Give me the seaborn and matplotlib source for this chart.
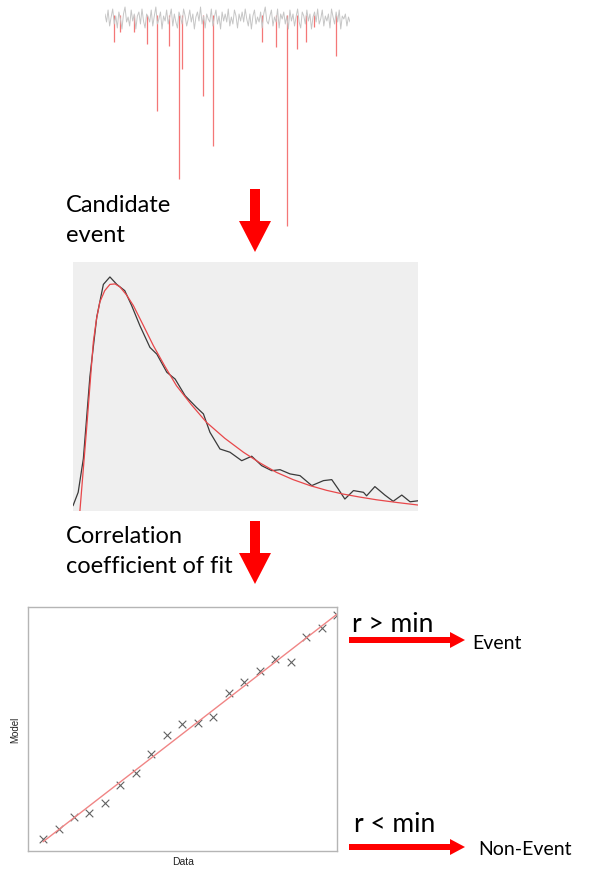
import numpy as np
import matplotlib.pyplot as plt
from matplotlib.patches import FancyArrow
import seaborn as sns

# === Data ===
# top light curve: baseline noise (flux units, 0 = baseline)
noise = [5, -3, 9, -7, 2, 10, -5, 3, -9, 7, 0, -10, 5, 12, -3, 2, -7, 9, -2, 5,
         -10, 3, 7, -5, 10, -2, -9, 5, 2, -3, 9, -7, 3, 12, -5, 0, 7, -10, 3, -2,
         9, -5, 2, 10, -7, 5, -3, -9, 7, 2, -5, 10, 3, -7, 0, 9, -3, 5, -10, 2,
         7, -2, 12, -5, 3, -9, 5, 0, -3, 10, -7, 2, 9, -5, 3, -10, 7, -2, 5, -3,
         10, -7, 2, -5, 9, 3, -9, 5, -2, 7, -3, 10, 0, -7, 5, -10, 3, 9, -5, 2,
         -3, 7, -9, 5, 12, -2, -5, 3, 9, -7, 2, -3, 10, -9, 5, 0, 7, -5, 3, -10,
         9, -2, 5, -7, 2, 10, -3, -9, 7, 3, -5, 9, -2, 5, -10, 2, 7, -3, 10, -5,
         0, 9, -7, 3, -2, 5, -9, 10, 2, -5, 7, -3, 9, -10, 3, 0, 5, -7, 2, -3]
# candidate events (dips)
spike_t = [9, 15, 29, 42, 52, 64, 74, 77, 98, 108, 157, 171, 182, 192, 201, 209, 231]
spike_depth = [-23, -13, -13, -25, -92, -27, -160, -50, -77, -127, -23, -28, -207, -30, -23, -8, -37]

# candidate event: data and fitted model
event_x = [0, 1.5, 3, 4.9, 6.9, 8.8, 10.7, 12.7, 15, 17, 19.4, 22.3, 24.3, 27.2, 29.6,
           32.5, 35.8, 37.8, 39.7, 42.6, 45.5, 48.9, 51.8, 54.7, 57.6, 60, 62.9, 65.8,
           69.2, 72.6, 75, 76.9, 78.8, 81.3, 84.2, 85.1, 87.5, 90.4, 92.8, 95.3, 97.7, 100]
event_y = [2.1, 7.5, 21, 54, 78, 91, 94, 91, 88.5, 82.5, 74.4, 65.7, 63, 55.7, 53,
           46.3, 41.6, 39, 31.6, 24.9, 23.6, 20.2, 22, 18.2, 16.2, 16.6, 14.9, 14.2,
           10.2, 12.2, 12.6, 8.8, 4.8, 8.2, 7.5, 6.1, 9.8, 6.4, 3.9, 6.4, 3.7, 4.1]
model_x = [2, 3, 4, 5, 5.9, 6.8, 7.8, 9.2, 10.7, 12.2, 13.6, 15.5, 17.5, 20.4, 23.3,
           26.6, 30, 34.3, 38.7, 44, 49.4, 54.2, 59, 63.8, 68.7, 73.5, 78.3, 83.1, 88, 94, 100]
model_y = [0, 17, 34, 52, 68, 77, 84, 88.5, 91, 91.2, 90, 86.8, 82.5, 74.5, 66.4,
           58.2, 50.3, 42.7, 35.6, 29.2, 23.6, 19.3, 15.5, 12.6, 10.2, 8.3, 6.8, 5.6, 4.5, 3.4, 2.4]

# correlation plot: data vs model
corr_data = list(range(1, 21))
corr_model = [0.80, 1.44, 2.22, 2.48, 3.08, 4.25, 5.02, 6.25, 7.50, 8.23,
              8.28, 8.69, 10.22, 10.95, 11.66, 12.44, 12.22, 13.84, 14.44, 15.26]

sns.set_theme(style='white')
plt.rcParams['font.family'] = ['Lato', 'DejaVu Sans']

W, H = 595, 870
fig = plt.figure(figsize=(W / 100, H / 100), dpi=100)


def px_axes(x0, y0, x1, y1):
    # axes placed by pixel box (top-left origin)
    return fig.add_axes([x0 / W, 1 - y1 / H, (x1 - x0) / W, (y1 - y0) / H])


# === Panel 1: light curve ===
ax1 = px_axes(105, 5, 350, 232)
t = np.linspace(0, 245, len(noise))
ax1.vlines(spike_t, spike_depth, 4, color='#f25555', lw=0.9, alpha=0.8)
sns.lineplot(x=t, y=noise, ax=ax1, color='#c6c6c6', lw=0.7)
ax1.set_xlim(0, 245)
ax1.set_ylim(-212, 15)
ax1.axis('off')

# === Panel 2: candidate event fit ===
ax2 = px_axes(73, 263, 418, 512)
ax2.set_facecolor('#efefef')
sns.lineplot(x=event_x, y=event_y, ax=ax2, color='#3a3a3a', lw=0.9, sort=False)
sns.lineplot(x=model_x, y=model_y, ax=ax2, color='#e8474a', lw=0.9, sort=False)
ax2.set_xlim(0, 100)
ax2.set_ylim(0, 100)
ax2.set_xticks([])
ax2.set_yticks([])
for s in ax2.spines.values():
    s.set_visible(False)

# === Panel 3: correlation of data vs model ===
ax3 = px_axes(28, 608, 337, 852)
sns.regplot(x=corr_data, y=corr_model, ax=ax3, ci=None, marker='x',
            scatter_kws={'color': '#3a3a3a', 's': 30, 'linewidths': 0.8},
            line_kws={'color': '#f08585', 'lw': 1})
ax3.set_xlim(0.03, 19.98)
ax3.set_ylim(0, 15.78)
ax3.set_xticks([])
ax3.set_yticks([])
for s in ax3.spines.values():
    s.set_color('#b5b5b5')
    s.set_linewidth(1)
ax3.set_xlabel('')
ax3.set_ylabel('')

# === Overlay: annotations and arrows in pixel coords ===
ov = fig.add_axes([0, 0, 1, 1])
ov.set_xlim(0, W)
ov.set_ylim(H, 0)
ov.axis('off')
ov.patch.set_alpha(0)

red = '#ff0000'
for y0 in (190, 522):
    ov.add_patch(FancyArrow(255, y0, 0, 63, width=10, head_width=32, head_length=31,
                            length_includes_head=True, color=red, lw=0))
for y0 in (641, 848):
    ov.add_patch(FancyArrow(349, y0, 116, 0, width=6, head_width=16, head_length=15,
                            length_includes_head=True, color=red, lw=0))

ov.text(66, 212, 'Candidate', fontsize=17, va='baseline', color='black')
ov.text(66, 242, 'event', fontsize=17, va='baseline', color='black')
ov.text(66, 543, 'Correlation', fontsize=17, va='baseline', color='black')
ov.text(66, 573, 'coefficient of fit', fontsize=17, va='baseline', color='black')

ov.text(352, 632, 'r > min', fontsize=19, va='baseline', color='black')
ov.text(472, 649, 'Event', fontsize=14, va='baseline', color='black')
ov.text(354, 832, 'r < min', fontsize=19, va='baseline', color='black')
ov.text(478, 855, 'Non-Event', fontsize=14, va='baseline', color='black')

ov.text(15, 730, 'Model', fontsize=7, rotation=90, ha='center', va='center',
        family=['Liberation Sans', 'DejaVu Sans'], color='#222222')
ov.text(183, 862, 'Data', fontsize=7.5, ha='center', va='center',
        family=['Liberation Sans', 'DejaVu Sans'], color='#222222')

fig.savefig('out.png', dpi=100)
